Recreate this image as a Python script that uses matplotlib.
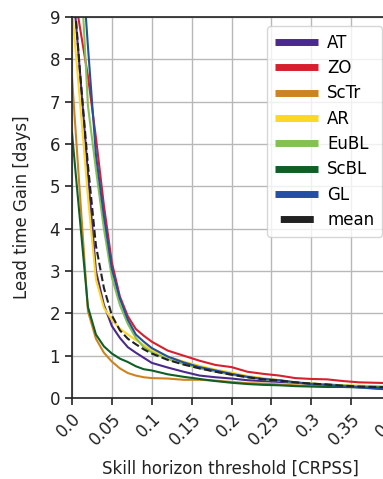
import matplotlib
matplotlib.use("Agg")
import matplotlib.pyplot as plt
from matplotlib.lines import Line2D

# skill horizon thresholds (CRPSS)
thresholds = [0.0, 0.01, 0.02, 0.03, 0.04, 0.05, 0.06, 0.07, 0.08, 0.09, 0.10,
              0.12, 0.14, 0.16, 0.18, 0.20, 0.22, 0.24, 0.26, 0.28, 0.30,
              0.32, 0.34, 0.36, 0.38, 0.40]

# lead time gain [days] per region
at = [10.0, 7.7, 5.3, 3.0, 2.2, 1.7, 1.42, 1.2, 1.07, 0.95, 0.83,
      0.72, 0.62, 0.53, 0.49, 0.46, 0.42, 0.40, 0.38, 0.36, 0.34,
      0.31, 0.29, 0.27, 0.26, 0.25]
zo = [9.9, 8.75, 7.6, 6.15, 4.55, 3.2, 2.4, 1.93, 1.63, 1.47, 1.33,
      1.12, 1.0, 0.88, 0.78, 0.73, 0.62, 0.57, 0.53, 0.47, 0.45,
      0.44, 0.40, 0.37, 0.36, 0.35]
sctr = [7.56, 4.8, 2.05, 1.4, 1.07, 0.86, 0.70, 0.59, 0.53, 0.49, 0.47,
        0.46, 0.43, 0.43, 0.41, 0.38, 0.35, 0.34, 0.32, 0.30, 0.29,
        0.28, 0.27, 0.26, 0.26, 0.25]
ar = [9.2, 7.0, 4.75, 2.8, 2.13, 1.85, 1.64, 1.5, 1.37, 1.25, 1.13,
      0.98, 0.86, 0.76, 0.67, 0.60, 0.52, 0.47, 0.42, 0.37, 0.34,
      0.32, 0.30, 0.29, 0.28, 0.27]
eubl = [12.5, 10.5, 6.9, 5.4, 4.0, 2.85, 2.2, 1.75, 1.42, 1.2, 1.08,
        0.92, 0.80, 0.70, 0.62, 0.55, 0.49, 0.44, 0.41, 0.37, 0.34,
        0.32, 0.30, 0.28, 0.27, 0.26]
scbl = [6.26, 4.2, 2.15, 1.5, 1.22, 1.05, 0.93, 0.85, 0.75, 0.68, 0.65,
        0.56, 0.50, 0.45, 0.40, 0.36, 0.33, 0.31, 0.30, 0.28, 0.27,
        0.26, 0.26, 0.25, 0.25, 0.24]
gl = [13.5, 11.0, 8.3, 5.75, 4.3, 3.05, 2.35, 1.85, 1.5, 1.33, 1.18,
      0.98, 0.84, 0.73, 0.65, 0.57, 0.50, 0.45, 0.42, 0.37, 0.33,
      0.31, 0.28, 0.25, 0.22, 0.20]
mean = [10.2, 7.7, 5.5, 3.6, 2.6, 1.95, 1.6, 1.4, 1.27, 1.15, 1.05,
        0.90, 0.79, 0.70, 0.62, 0.55, 0.49, 0.44, 0.41, 0.37, 0.34,
        0.32, 0.29, 0.27, 0.26, 0.25]

regions = ["AT", "ZO", "ScTr", "AR", "EuBL", "ScBL", "GL"]
series = [at, zo, sctr, ar, eubl, scbl, gl]
colors = ["#4a2a8c", "#d7202e", "#cd8420", "#fcd723", "#86c150", "#0f5f26", "#2350a3"]

xticks = [0.0, 0.05, 0.1, 0.15, 0.2, 0.25, 0.3, 0.35, 0.4]
xticklabels = ["0.0", "0.05", "0.1", "0.15", "0.2", "0.25", "0.3", "0.35", "0.4"]

plt.rcParams["font.family"] = "DejaVu Sans"
plt.rcParams["font.size"] = 12

fig = plt.figure(figsize=(3.83, 4.79), dpi=100)
# axes run past the right edge of the figure, as in the cropped original
ax = fig.add_axes([72 / 383, 81 / 479, 319 / 383, 381 / 479])

for name, vals, col in zip(regions, series, colors):
    ax.plot(thresholds, vals, color=col, lw=1.5, label=name)
ax.plot(thresholds, mean, color="#222222", lw=1.5, ls="--", label="mean")

ax.set_xlim(0, 0.4)
ax.set_ylim(0, 9)
ax.set_xticks(xticks)
ax.set_xticklabels(xticklabels, rotation=45, ha="right", rotation_mode="anchor")
ax.set_yticks(range(10))
ax.grid(True, color="#b8b8b8", lw=1)
ax.set_axisbelow(True)
ax.tick_params(direction="out", length=5, width=1.2, colors="#222222", labelsize=12)
for s in ax.spines.values():
    s.set_linewidth(1.2)
    s.set_color("#222222")

ax.set_xlabel("Skill horizon threshold [CRPSS]", color="#222222")
ax.xaxis.set_label_coords(0.497, -0.163)
ax.set_ylabel("Lead time Gain [days]", color="#222222")
ax.yaxis.set_label_coords(-0.13, 0.5)

handles = [Line2D([], [], color=c, lw=5, solid_capstyle="butt") for c in colors]
handles.append(Line2D([], [], color="#222222", lw=5,
                      linestyle=(5.43, (4.75, 1.44)), dash_capstyle="butt"))
ax.legend(handles, regions + ["mean"], loc="upper right", fontsize=12,
          handlelength=2.6, handletextpad=0.55, labelspacing=0.44,
          borderaxespad=0.55, borderpad=0.45)

fig.savefig("out.png", dpi=100)
